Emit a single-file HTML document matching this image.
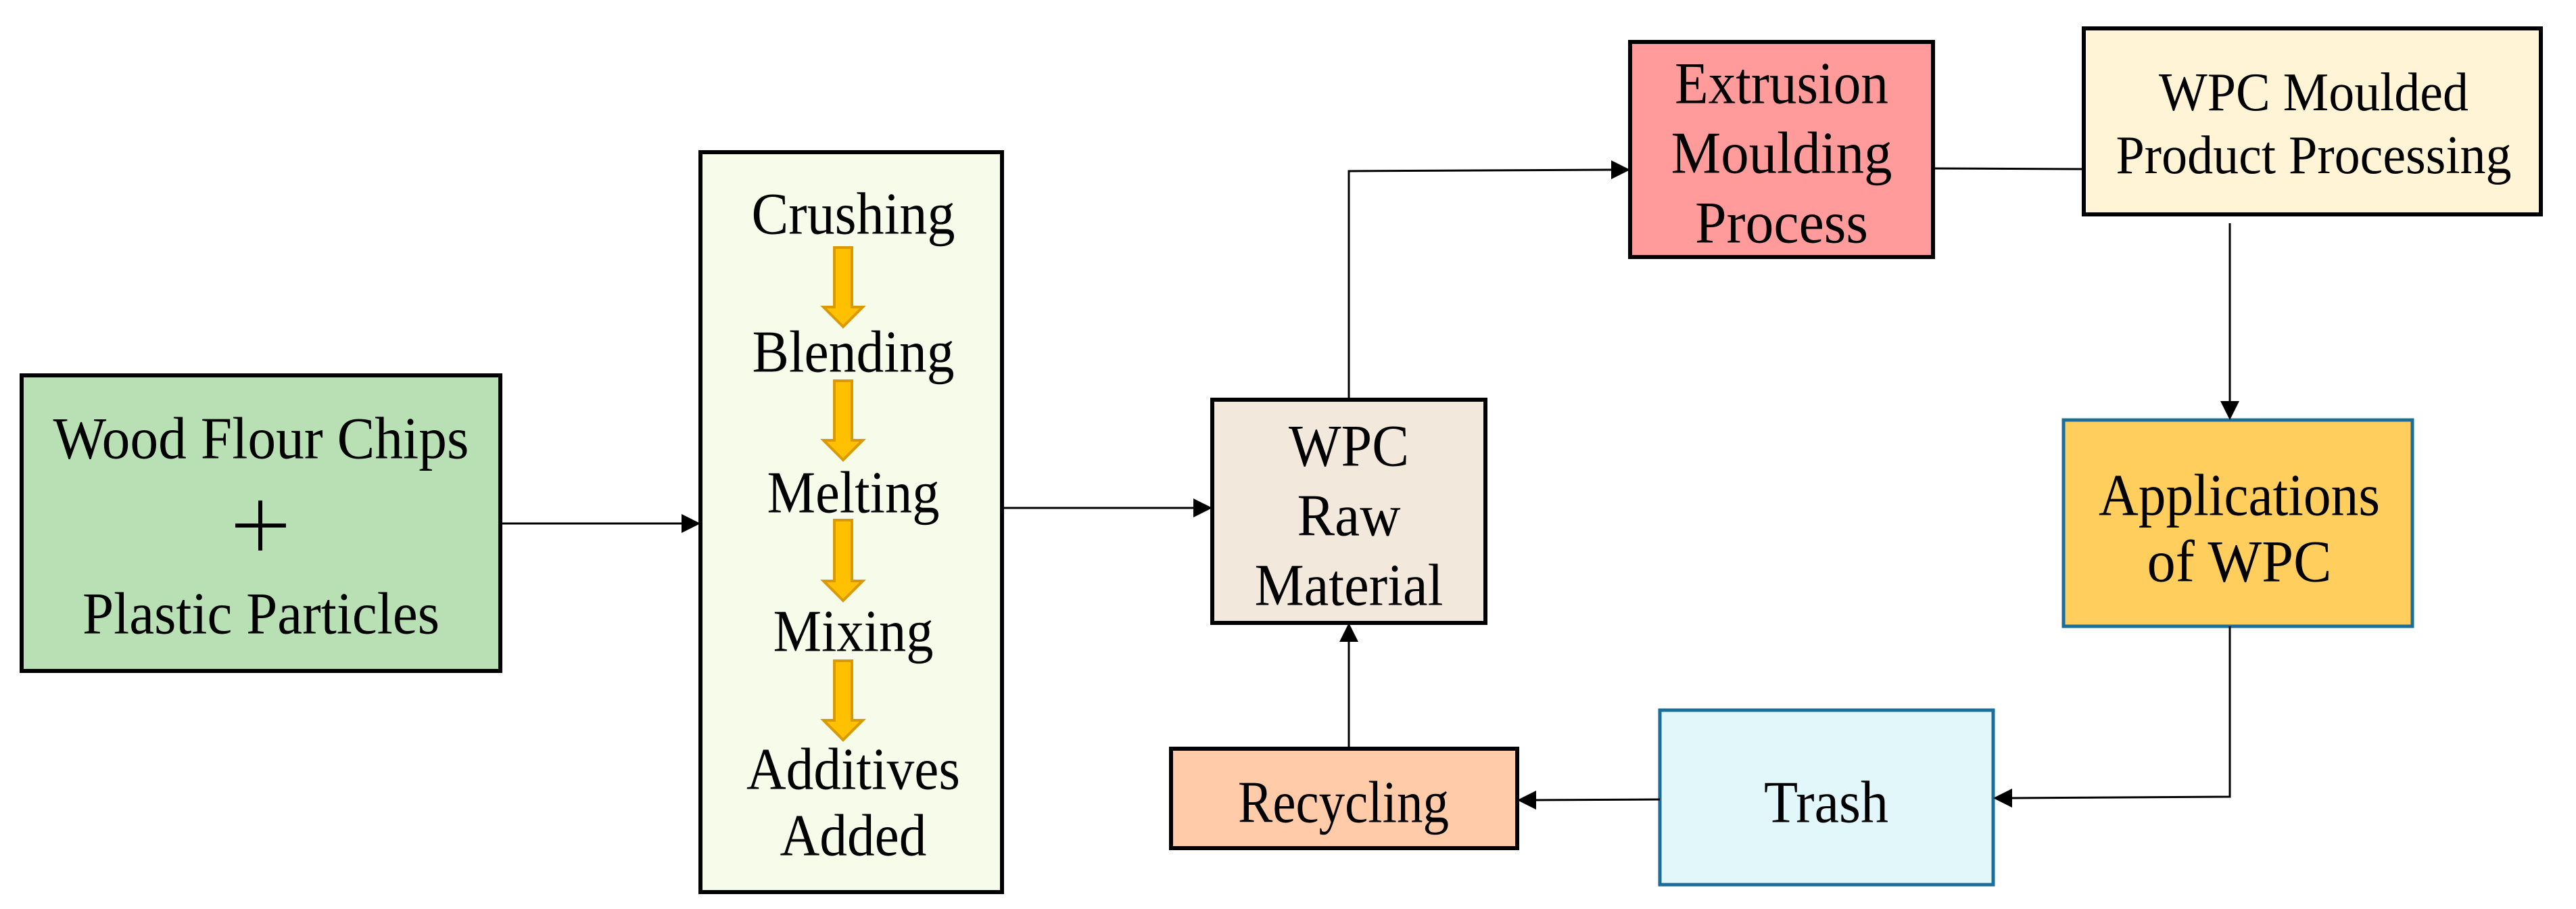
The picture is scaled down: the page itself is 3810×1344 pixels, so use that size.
<!DOCTYPE html>
<html><head><meta charset="utf-8"><style>html,body{margin:0;padding:0;background:#fff}svg{display:block}text{font-family:"Liberation Serif","Times New Roman",serif;}</style></head>
<body>
<svg width="3810" height="1344" viewBox="0 0 3810 1344" xmlns="http://www.w3.org/2000/svg" style="font-family:'Liberation Serif',serif" fill="#000">
<!-- boxes -->
<rect x="32" y="555" width="708" height="437" fill="#B9E0B5" stroke="#000" stroke-width="6"/>
<rect x="1036" y="225" width="446" height="1094" fill="#F7FBEA" stroke="#000" stroke-width="6"/>
<rect x="1793" y="591" width="404" height="330" fill="#F2E8DC" stroke="#000" stroke-width="6"/>
<rect x="2411" y="62" width="448" height="318" fill="#FF9B9B" stroke="#000" stroke-width="6"/>
<rect x="3082" y="42" width="676" height="275" fill="#FFF4D6" stroke="#000" stroke-width="6"/>
<rect x="3052" y="621" width="516" height="305" fill="#FFCE5C" stroke="#1A6E99" stroke-width="5"/>
<rect x="2455" y="1050" width="493" height="258" fill="#E2F7FA" stroke="#1A6E99" stroke-width="5"/>
<rect x="1732" y="1107" width="512" height="147" fill="#FFCBA8" stroke="#000" stroke-width="6"/>

<!-- connectors -->
<g stroke="#000" stroke-width="3" fill="none">
<line x1="740" y1="774" x2="1010" y2="774"/>
<line x1="1482" y1="751" x2="1768" y2="751"/>
<polyline points="1995,591 1995,253 2385,251"/>
<line x1="2859" y1="249" x2="3082" y2="250"/>
<line x1="3298" y1="330" x2="3298" y2="595"/>
<polyline points="3298,926 3298,1178 2974,1180"/>
<line x1="2455" y1="1182" x2="2270" y2="1183"/>
<line x1="1995" y1="1107" x2="1995" y2="948"/>
</g>
<g fill="#000">
<polygon points="1036,774 1008,760 1008,788"/>
<polygon points="1793,751 1765,737 1765,765"/>
<polygon points="2411,251 2383,237 2383,265"/>
<polygon points="3298,621 3284,593 3312,593"/>
<polygon points="2948,1180 2976,1166 2976,1194"/>
<polygon points="2244,1183 2272,1169 2272,1197"/>
<polygon points="1995,921 1981,949 2009,949"/>
</g>

<!-- yellow arrows -->
<g fill="#FFC000" stroke="#D99A00" stroke-width="4">
<polygon points="1234,366 1260,366 1260,454 1276,454 1247,483 1218,454 1234,454"/>
<polygon points="1234,563 1260,563 1260,651 1276,651 1247,680 1218,651 1234,651"/>
<polygon points="1234,769 1260,769 1260,859 1276,859 1247,888 1218,859 1234,859"/>
<polygon points="1234,977 1260,977 1260,1065 1276,1065 1247,1094 1218,1065 1234,1065"/>
</g>

<!-- text -->
<g font-size="88" text-anchor="middle" dominant-baseline="central">
<text x="386" y="649" textLength="615" lengthAdjust="spacingAndGlyphs">Wood Flour Chips</text>
<text x="386" y="908" textLength="528" lengthAdjust="spacingAndGlyphs">Plastic  Particles</text>
<text x="1262" y="317" textLength="301" lengthAdjust="spacingAndGlyphs">Crushing</text>
<text x="1262" y="521" textLength="299" lengthAdjust="spacingAndGlyphs">Blending</text>
<text x="1262" y="729" textLength="255" lengthAdjust="spacingAndGlyphs">Melting</text>
<text x="1262" y="934" textLength="237" lengthAdjust="spacingAndGlyphs">Mixing</text>
<text x="1262" y="1138" textLength="316" lengthAdjust="spacingAndGlyphs">Additives</text>
<text x="1262" y="1236" textLength="217" lengthAdjust="spacingAndGlyphs">Added</text>
<text x="1995" y="660" textLength="178" lengthAdjust="spacingAndGlyphs">WPC</text>
<text x="1995" y="763" textLength="153" lengthAdjust="spacingAndGlyphs">Raw</text>
<text x="1995" y="866" textLength="279" lengthAdjust="spacingAndGlyphs">Material</text>
<text x="2635" y="124" textLength="316" lengthAdjust="spacingAndGlyphs">Extrusion</text>
<text x="2635" y="227" textLength="327" lengthAdjust="spacingAndGlyphs">Moulding</text>
<text x="2635" y="330" textLength="256" lengthAdjust="spacingAndGlyphs">Process</text>
<text x="3312" y="733" textLength="416" lengthAdjust="spacingAndGlyphs">Applications</text>
<text x="3312" y="831" textLength="273" lengthAdjust="spacingAndGlyphs">of WPC</text>
<text x="2701" y="1187" textLength="184" lengthAdjust="spacingAndGlyphs">Trash</text>
<text x="1987" y="1187" textLength="312" lengthAdjust="spacingAndGlyphs">Recycling</text>
</g>
<g font-size="80" text-anchor="middle" dominant-baseline="central">
<text x="3422" y="137" textLength="458" lengthAdjust="spacingAndGlyphs">WPC Moulded</text>
<text x="3422" y="230" textLength="585" lengthAdjust="spacingAndGlyphs">Product Processing</text>
</g>
<!-- plus sign -->
<rect x="348" y="774" width="75" height="6" fill="#000"/>
<rect x="382" y="740" width="6" height="74" fill="#000"/>
</svg>
</body></html>
